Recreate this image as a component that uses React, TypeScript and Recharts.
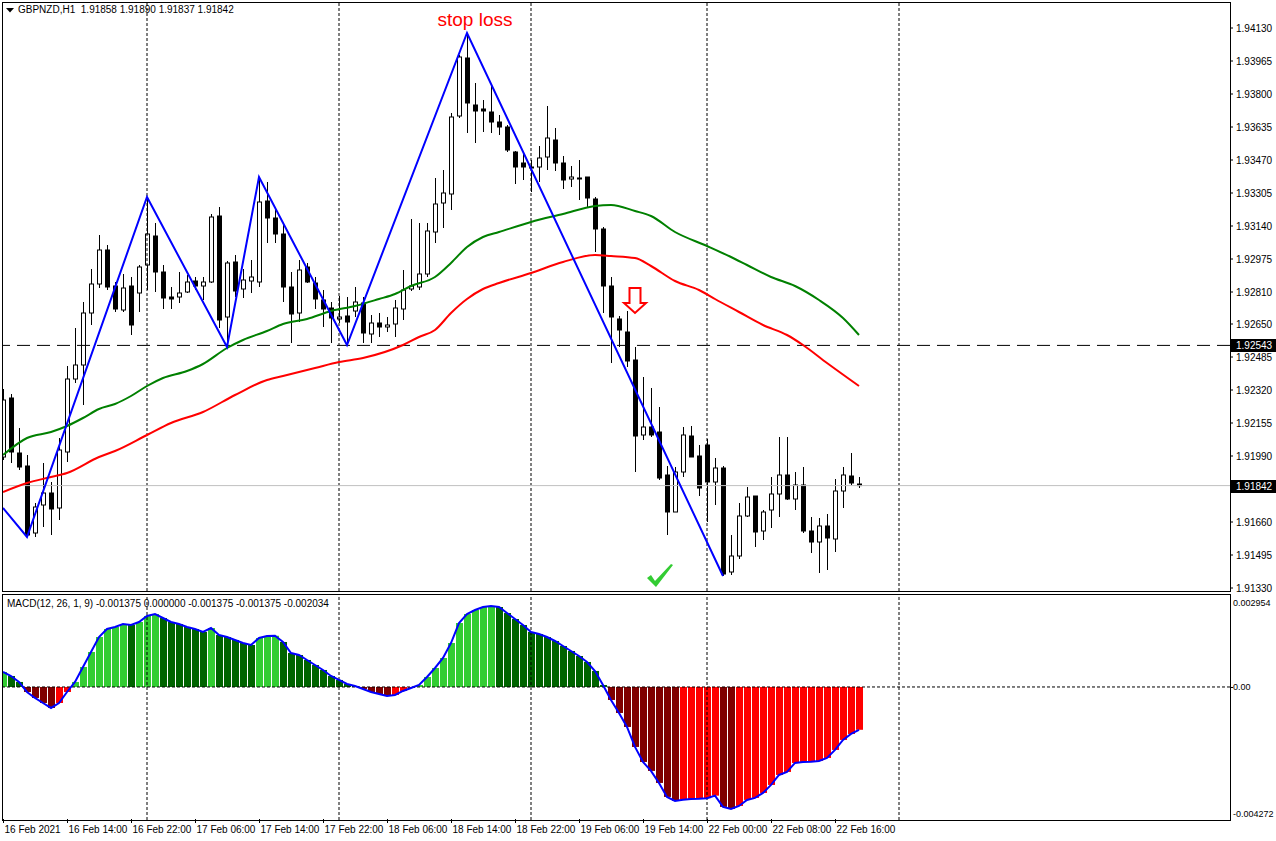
import React from 'react';
import { ComposedChart, Bar, Line, XAxis, YAxis, ReferenceLine, ReferenceDot, Cell } from 'recharts';

// GBPNZD H1, one entry per bar (16 Feb 06:00 .. 22 Feb 19:00)
const openPrices = [
  1.91985, 1.9228, 1.92005, 1.9194, 1.91605, 1.91745, 1.91805, 1.9173, 1.9201, 1.92375,
  1.92445, 1.92705, 1.9285, 1.9302, 1.9284, 1.9272, 1.9284, 1.92805, 1.92945, 1.9309,
  1.9291, 1.92785, 1.92785, 1.9281, 1.92865, 1.9284, 1.9286, 1.9319, 1.92685, 1.9296,
  1.92825, 1.92865, 1.9286, 1.93265, 1.9318, 1.931, 1.92835, 1.92705, 1.92935, 1.92855,
  1.9277, 1.9273, 1.92675, 1.9269, 1.92715, 1.92755, 1.926, 1.92655, 1.92635, 1.9265,
  1.92725, 1.92825, 1.92835, 1.929, 1.9311, 1.93255, 1.933, 1.9369, 1.9398, 1.93745,
  1.93725, 1.9371, 1.9366, 1.93635, 1.9351, 1.93455, 1.93435, 1.93435, 1.93485, 1.9357,
  1.93455, 1.93375, 1.9338, 1.93385, 1.93275, 1.93125, 1.9284, 1.92675, 1.9261, 1.9247,
  1.92095, 1.92135, 1.9211, 1.91895, 1.9171, 1.9191, 1.9209, 1.9199, 1.92045, 1.9186,
  1.9193, 1.9141, 1.9149, 1.9169, 1.9179, 1.91615, 1.9172, 1.918, 1.91895, 1.91775,
  1.91845, 1.91615, 1.9156, 1.9164, 1.91575, 1.91815, 1.9189, 1.9185,
];
const highPrices = [
  1.92325, 1.923, 1.9213, 1.91995, 1.91755, 1.91955, 1.9186, 1.9208, 1.9244, 1.9263,
  1.9276, 1.92925, 1.93095, 1.93045, 1.9286, 1.929, 1.92885, 1.92945, 1.93285, 1.93155,
  1.92945, 1.92835, 1.9291, 1.92895, 1.92885, 1.92885, 1.932, 1.93235, 1.92965, 1.92995,
  1.92925, 1.9297, 1.93385, 1.9336, 1.9323, 1.93155, 1.9291, 1.9297, 1.92955, 1.92885,
  1.9282, 1.9276, 1.9279, 1.92785, 1.92835, 1.92785, 1.92695, 1.92705, 1.92685, 1.9277,
  1.9292, 1.93175, 1.93155, 1.93155, 1.9338, 1.9342, 1.93705, 1.93995, 1.94105, 1.93855,
  1.9377, 1.93845, 1.93695, 1.93645, 1.93515, 1.93505, 1.9347, 1.9354, 1.9374, 1.9363,
  1.9349, 1.9344, 1.9347, 1.93385, 1.93285, 1.93135, 1.92885, 1.9269, 1.92715, 1.92535,
  1.92385, 1.9233, 1.92235, 1.9194, 1.91935, 1.92135, 1.9214, 1.92045, 1.92075, 1.9198,
  1.9194, 1.91595, 1.91755, 1.91835, 1.9179, 1.9172, 1.91885, 1.92085, 1.92085, 1.9191,
  1.91935, 1.91685, 1.9168, 1.917, 1.91875, 1.91935, 1.92005, 1.91885,
];
const lowPrices = [
  1.9197, 1.91955, 1.9192, 1.91585, 1.91585, 1.91635, 1.91595, 1.9167, 1.9196, 1.92355,
  1.92245, 1.92645, 1.9283, 1.9282, 1.9271, 1.9271, 1.92595, 1.9271, 1.9282, 1.9281,
  1.92725, 1.92725, 1.92755, 1.92805, 1.9282, 1.9277, 1.92855, 1.9263, 1.92535, 1.92785,
  1.9278, 1.92805, 1.92835, 1.93055, 1.93055, 1.9276, 1.92555, 1.9266, 1.92855, 1.92725,
  1.92635, 1.92555, 1.92655, 1.92545, 1.92685, 1.92555, 1.92555, 1.92585, 1.9261, 1.92585,
  1.9267, 1.92815, 1.9282, 1.92885, 1.93055, 1.9313, 1.9322, 1.9368, 1.93605, 1.93555,
  1.9361, 1.93605, 1.93595, 1.9351, 1.9335, 1.9337, 1.9331, 1.9336, 1.9342, 1.93415,
  1.93325, 1.93335, 1.9327, 1.93235, 1.9301, 1.92705, 1.92455, 1.92535, 1.92435, 1.9191,
  1.9207, 1.92085, 1.9187, 1.91595, 1.9171, 1.91885, 1.91985, 1.9179, 1.9166, 1.91745,
  1.9139, 1.91395, 1.91475, 1.91685, 1.91535, 1.9157, 1.9163, 1.91685, 1.9177, 1.9172,
  1.91605, 1.91505, 1.91405, 1.9142, 1.9151, 1.9173, 1.91845, 1.9183,
];
const closePrices = [
  1.9227, 1.9201, 1.91935, 1.91595, 1.91735, 1.91805, 1.91725, 1.9202, 1.92375, 1.92445,
  1.92705, 1.9285, 1.9302, 1.92835, 1.92725, 1.9283, 1.92645, 1.92935, 1.931, 1.9291,
  1.9278, 1.92775, 1.92805, 1.9286, 1.9284, 1.9286, 1.93185, 1.9267, 1.92955, 1.92815,
  1.9287, 1.92885, 1.9326, 1.9318, 1.931, 1.92835, 1.927, 1.9292, 1.9286, 1.92775,
  1.92725, 1.9268, 1.92685, 1.9266, 1.9276, 1.92605, 1.92655, 1.92635, 1.92645, 1.9273,
  1.9282, 1.9284, 1.929, 1.93115, 1.9325, 1.93305, 1.93685, 1.93985, 1.93755, 1.93715,
  1.93715, 1.9366, 1.93635, 1.9352, 1.93435, 1.93435, 1.9343, 1.9348, 1.9358, 1.93455,
  1.9337, 1.93385, 1.93375, 1.9328, 1.93125, 1.9284, 1.92685, 1.9262, 1.92465, 1.9209,
  1.92135, 1.92095, 1.9188, 1.9171, 1.9191, 1.92095, 1.91985, 1.9183, 1.9186, 1.9193,
  1.914, 1.9149, 1.9169, 1.91785, 1.9161, 1.9171, 1.918, 1.91895, 1.91775, 1.91845,
  1.91615, 1.9156, 1.9164, 1.9158, 1.91815, 1.91895, 1.91855, 1.91842,
];
const macdValues = [
  0.000482, 0.000353, 0.000161, -0.000161, -0.000353, -0.000514, -0.000674, -0.000514, -0.000161, 0.000161,
  0.000642, 0.001124, 0.001605, 0.001862, 0.001926, 0.002022, 0.00199, 0.002087, 0.002279, 0.002343,
  0.002215, 0.002087, 0.002022, 0.001926, 0.001862, 0.001766, 0.001894, 0.001669, 0.001605, 0.001509,
  0.001412, 0.001348, 0.001573, 0.001637, 0.001645, 0.001445, 0.001091, 0.001027, 0.000867, 0.000706,
  0.000546, 0.000353, 0.000225, 0.000096, 0.000032, -0.000064, -0.000161, -0.000225, -0.000289, -0.000257,
  -0.000128, -0.000032, 0.000064, 0.000321, 0.00061, 0.000931, 0.001412, 0.002054, 0.002343, 0.002472,
  0.002568, 0.0026, 0.002568, 0.002375, 0.002183, 0.00199, 0.001766, 0.001701, 0.001605, 0.001477,
  0.001316, 0.001156, 0.000995, 0.000803, 0.000514, 0.000064, -0.000417, -0.000835, -0.001284, -0.001926,
  -0.002408, -0.002696, -0.003082, -0.003531, -0.003659, -0.00362, -0.0036, -0.00359, -0.00357, -0.00349,
  -0.003852, -0.003916, -0.00382, -0.003627, -0.003563, -0.003403, -0.003146, -0.002825, -0.002729, -0.00244,
  -0.002408, -0.0024, -0.002375, -0.002279, -0.002022, -0.001701, -0.001509, -0.001375,
];

// moving averages, read at some bars (bar index -> price)
const fastMaIdx = [0, 3, 6, 8, 10, 12, 14, 16, 18, 20, 23, 25, 28, 30, 33, 35, 38, 41, 44, 47, 49, 51, 54, 56, 58, 60, 62, 66, 70, 74, 76, 79, 81, 84, 88, 91, 93, 96, 99, 102, 105, 107];
const fastMaVals = [1.91995, 1.9208, 1.9211, 1.9214, 1.9218, 1.92225, 1.9225, 1.9229, 1.9234, 1.9238, 1.92415, 1.9245, 1.9253, 1.9257, 1.92615, 1.9265, 1.92675, 1.92715, 1.9274, 1.92775, 1.928, 1.9284, 1.92885, 1.92955, 1.93035, 1.93085, 1.9311, 1.9316, 1.932, 1.9324, 1.93245, 1.93215, 1.9319, 1.9311, 1.9304, 1.92985, 1.92945, 1.92885, 1.9284, 1.9277, 1.9268, 1.92595];
const slowMaIdx = [0, 3, 6, 8, 12, 14, 18, 21, 25, 29, 33, 35, 39, 42, 45, 50, 52, 54, 56, 58, 60, 62, 66, 70, 74, 76, 79, 81, 84, 87, 89, 92, 95, 98, 100, 103, 107];
const slowMaVals = [1.9181, 1.91855, 1.91885, 1.91905, 1.91985, 1.92015, 1.92095, 1.92155, 1.9221, 1.92295, 1.9237, 1.9239, 1.9243, 1.9246, 1.9248, 1.92545, 1.92585, 1.9262, 1.92705, 1.92775, 1.92825, 1.92855, 1.92905, 1.9296, 1.92995, 1.9299, 1.9298, 1.9294, 1.92865, 1.9282, 1.92775, 1.9271, 1.92645, 1.92595, 1.92545, 1.92455, 1.9234];
const zigIdx = [0, 3, 18, 28, 32, 43, 58, 90];
const zigVals = [1.9173, 1.91585, 1.93285, 1.92535, 1.93385, 1.92545, 1.94105, 1.9139];

const priceTicks = [1.9413, 1.93965, 1.938, 1.93635, 1.9347, 1.93305, 1.9314, 1.92975, 1.9281, 1.9265, 1.92485, 1.9232, 1.92155, 1.9199, 1.9166, 1.91495, 1.9133];
const timeTickIdx = [0, 8, 16, 24, 32, 40, 48, 56, 64, 72, 80, 88, 96, 104];
const timeLabels = ['16 Feb 2021', '16 Feb 14:00', '16 Feb 22:00', '17 Feb 06:00', '17 Feb 14:00', '17 Feb 22:00', '18 Feb 06:00', '18 Feb 14:00', '18 Feb 22:00', '19 Feb 06:00', '19 Feb 14:00', '22 Feb 00:00', '22 Feb 08:00', '22 Feb 16:00'];
const dayLines = [18, 42, 66, 88, 112];

const FONT = "'Liberation Sans', Arial, sans-serif";
const X_MAX = 153.375;

const fastMap = new Map(fastMaIdx.map((k, j) => [k, fastMaVals[j]]));
const slowMap = new Map(slowMaIdx.map((k, j) => [k, slowMaVals[j]]));
const zigMap = new Map(zigIdx.map((k, j) => [k, zigVals[j]]));

const data = closePrices.map((c, i) => ({
  i,
  open: openPrices[i],
  high: highPrices[i],
  low: lowPrices[i],
  close: c,
  range: [lowPrices[i], highPrices[i]],
  fast: fastMap.has(i) ? fastMap.get(i) : null,
  slow: slowMap.has(i) ? slowMap.get(i) : null,
  zig: zigMap.has(i) ? zigMap.get(i) : null,
  macd: macdValues[i],
}));

const macdColor = (i: number) => {
  const v = macdValues[i];
  const rising = i === 0 || v >= macdValues[i - 1];
  if (v >= 0) return rising ? '#32cd32' : '#006400';
  return rising ? '#ff0000' : '#800000';
};

const Candle = (props: any) => {
  const { x, y, width, height, payload } = props;
  if (x == null || y == null) return null;
  const cx = Math.round(x + width / 2) + 0.5;
  const top = Math.min(y, y + height);
  const h = Math.abs(height);
  const span = payload.high - payload.low;
  const k = span > 0 ? h / span : 0;
  const bTop = top + (payload.high - Math.max(payload.open, payload.close)) * k;
  const bBot = top + (payload.high - Math.min(payload.open, payload.close)) * k;
  const bull = payload.close >= payload.open;
  return (
    <g>
      <line x1={cx} x2={cx} y1={top} y2={top + h} stroke="#000" strokeWidth={1} />
      <rect x={cx - 2} y={bTop} width={4} height={Math.max(bBot - bTop, 0.5)} fill={bull ? '#fff' : '#000'} stroke="#000" strokeWidth={1} />
    </g>
  );
};

const MacdBar = (props: any) => {
  const { x, y, width, height, fill } = props;
  if (x == null || y == null) return null;
  const c = Math.round(x + width / 2);
  const top = Math.min(y, y + height);
  return <rect x={c - 3} y={top} width={7} height={Math.abs(height)} fill={fill} />;
};

const PriceTag = ({ viewBox, text }: any) => {
  const left = viewBox.x + viewBox.width + 1;
  const y = Math.round(viewBox.y);
  return (
    <g>
      <rect x={left} y={y - 6} width={45} height={13} fill="#000" />
      <text x={left + 5} y={y + 4} fill="#fff" fontSize={10} fontFamily={FONT}>{text}</text>
    </g>
  );
};

const TimeTick = (props: any) => {
  const { x, y, payload } = props;
  const label = timeLabels[timeTickIdx.indexOf(payload.value)];
  const px = Math.round(x) + 0.5;
  return (
    <g>
      <line x1={px} x2={px} y1={y - 1} y2={y + 3} stroke="#000" />
      <text x={px + 1} y={y + 13} fontSize={10} fontFamily={FONT} fill="#000">{label}</text>
    </g>
  );
};

const MacdTick = (props: any) => {
  const { x, y, payload } = props;
  const v = payload.value;
  let text = v.toFixed(6);
  let dy = 11;
  if (v === 0) {
    text = '0.00';
    dy = 3.5;
  } else if (v < 0) {
    dy = -3.5;
  }
  return (
    <g>
      {v === 0 && <line x1={x} x2={x + 3} y1={y + 0.5} y2={y + 0.5} stroke="#000" />}
      <text x={x + 3} y={y + dy} fontSize={9} fontFamily={FONT} fill="#000">{text}</text>
    </g>
  );
};

const StopLoss = (p: any) => (
  <text x={p.cx + 8} y={p.cy - 7} textAnchor="middle" fontSize={19} fontFamily={FONT} fill="#ff0000">stop loss</text>
);

const DownArrow = (p: any) => {
  const { cx, cy } = p;
  const pts = [[-5.5, -12.5], [5.5, -12.5], [5.5, 2.5], [11, 2.5], [0, 12.5], [-11, 2.5], [-5.5, 2.5]]
    .map(([a, b]) => `${cx + a},${cy + b}`).join(' ');
  return <polygon points={pts} fill="#fff" stroke="#ff0000" strokeWidth={2} />;
};

const Check = (p: any) => {
  const { cx, cy } = p;
  const pts = [[-12, 2], [-8, -1], [-4, 5], [12, -12], [14, -11], [-3, 11]]
    .map(([a, b]) => `${cx + a},${cy + b}`).join(' ');
  return <polygon points={pts} fill="#33cc33" />;
};

export default function App() {
  return (
    <div style={{ position: 'relative', width: 1276, height: 841, background: '#fff', fontFamily: FONT, overflow: 'hidden' }}>
      <style>{'body{margin:0;}'}</style>

      <div style={{ position: 'absolute', left: 0, top: 594 }}>
        <ComposedChart width={1276} height={247} data={data} margin={{ top: 1, right: 0, bottom: 0, left: 3 }}>
          <XAxis
            dataKey="i"
            type="number"
            domain={[0, X_MAX]}
            ticks={timeTickIdx}
            interval={0}
            allowDataOverflow
            axisLine={false}
            tickLine={false}
            tickSize={0}
            tickMargin={0}
            height={21}
            tick={<TimeTick />}
          />
          <YAxis
            orientation="right"
            width={46}
            domain={[-0.004272, 0.002954]}
            ticks={[0.002954, 0, -0.004272]}
            interval={0}
            allowDataOverflow
            axisLine={false}
            tickLine={false}
            tickSize={0}
            tickMargin={0}
            tick={<MacdTick />}
          />
          {dayLines.map((d) => (
            <ReferenceLine key={d} x={d} stroke="#000" strokeDasharray="3 2" />
          ))}
          <ReferenceLine y={0} stroke="#000" strokeDasharray="3 2" />
          <Bar dataKey="macd" barSize={7} shape={<MacdBar />} isAnimationActive={false}>
            {data.map((d) => (
              <Cell key={d.i} fill={macdColor(d.i)} />
            ))}
          </Bar>
          <Line dataKey="macd" type="linear" stroke="#0000ff" strokeWidth={2} dot={false} isAnimationActive={false} />
        </ComposedChart>
      </div>

      <div style={{ position: 'absolute', left: 0, top: 0 }}>
        <ComposedChart width={1276} height={596} data={data} margin={{ top: 3, right: 0, bottom: 5, left: 3 }}>
          <XAxis dataKey="i" type="number" domain={[0, X_MAX]} hide allowDataOverflow />
          <YAxis
            orientation="right"
            width={46}
            domain={[1.91315, 1.94255]}
            ticks={priceTicks}
            interval={0}
            allowDataOverflow
            axisLine={false}
            tickLine={{ stroke: '#000' }}
            tickSize={3}
            tickMargin={3}
            tick={{ fontSize: 10, fill: '#000', fontFamily: FONT }}
            tickFormatter={(v: number) => v.toFixed(5)}
          />
          {dayLines.map((d) => (
            <ReferenceLine key={d} x={d} stroke="#000" strokeDasharray="3 2" />
          ))}
          <ReferenceLine y={1.91842} stroke="#c0c0c0" label={(p: any) => <PriceTag viewBox={p.viewBox} text="1.91842" />} />
          <Bar dataKey="range" barSize={5} shape={<Candle />} isAnimationActive={false} />
          <ReferenceLine y={1.92543} stroke="#000" strokeDasharray="13 7" label={(p: any) => <PriceTag viewBox={p.viewBox} text="1.92543" />} />
          <Line dataKey="fast" type="monotone" stroke="#008000" strokeWidth={2} dot={false} connectNulls isAnimationActive={false} />
          <Line dataKey="slow" type="monotone" stroke="#ff0000" strokeWidth={2} dot={false} connectNulls isAnimationActive={false} />
          <Line dataKey="zig" type="linear" stroke="#0000ff" strokeWidth={2} dot={false} connectNulls isAnimationActive={false} />
          <ReferenceDot x={58} y={1.94105} r={0} shape={StopLoss} />
          <ReferenceDot x={79} y={1.927675} r={0} shape={DownArrow} />
          <ReferenceDot x={82} y={1.9139} r={0} shape={Check} />
        </ComposedChart>
      </div>

      {/* panel frames */}
      <div style={{ position: 'absolute', left: 2, top: 2, width: 1229, height: 590, border: '1px solid #000', boxSizing: 'border-box', pointerEvents: 'none' }} />
      <div style={{ position: 'absolute', left: 2, top: 594, width: 1229, height: 227, border: '1px solid #000', boxSizing: 'border-box', pointerEvents: 'none' }} />

      <div style={{ position: 'absolute', left: 6, top: 4, fontSize: 10, lineHeight: '12px', color: '#000', whiteSpace: 'pre', display: 'flex', alignItems: 'center' }}>
        <svg width={8} height={5} style={{ marginRight: 4 }}>
          <polygon points="0,0 8,0 4,4.5" fill="#000" />
        </svg>
        <span>{'GBPNZD,H1  1.91858 1.91890 1.91837 1.91842'}</span>
      </div>
      <div style={{ position: 'absolute', left: 7, top: 598, fontSize: 10, lineHeight: '12px', color: '#000', whiteSpace: 'pre' }}>
        {'MACD(12, 26, 1, 9) -0.001375 0.000000 -0.001375 -0.001375 -0.002034'}
      </div>
    </div>
  );
}
